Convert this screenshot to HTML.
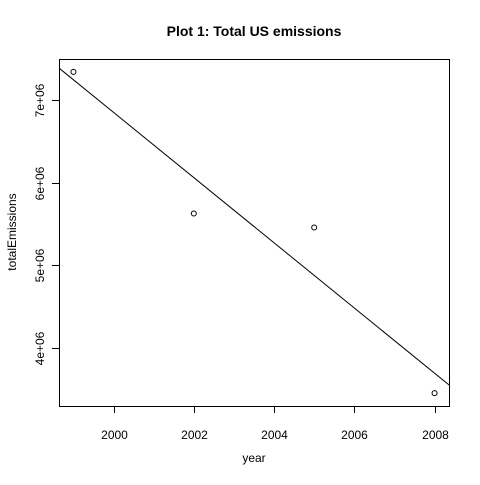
<!DOCTYPE html>
<html><head><meta charset="utf-8"><style>
body{margin:0;background:#fff}
text{font-family:"Liberation Sans",Arial,sans-serif;fill:#000}
</style></head><body>
<svg id="c" width="480" height="480" xmlns="http://www.w3.org/2000/svg"></svg>
<script>
const years=[1999,2002,2005,2008];
const emissions=[7337000,5627000,5458000,3458000];
const xTicks=[2000,2002,2004,2006,2008];
const yTicks=[4000000,5000000,6000000,7000000];
const yTickLabels=["4e+06","5e+06","6e+06","7e+06"];
const L=59,R=449,T=59,B=406;
const xmn=Math.min(...years),xmx=Math.max(...years),xr=(xmx-xmn)*0.04;
const ymn=Math.min(...emissions),ymx=Math.max(...emissions),yr=(ymx-ymn)*0.04;
const X0=xmn-xr,X1=xmx+xr,Y0=ymn-yr,Y1=ymx+yr;
const sx=v=>L+(v-X0)/(X1-X0)*(R-L);
const sy=v=>B-(v-Y0)/(Y1-Y0)*(B-T);
const svg=document.getElementById('c');const NS='http://www.w3.org/2000/svg';
function mk(t,a,p){const e=document.createElementNS(NS,t);for(const k in a)e.setAttribute(k,a[k]);(p||svg).appendChild(e);return e;}
const defs=mk('defs',{});const cp=mk('clipPath',{id:'clip'},defs);mk('rect',{x:L,y:T,width:R-L,height:B-T},cp);
let e;
e=mk('text',{x:254,y:36,'text-anchor':'middle','font-size':'14','font-weight':'bold'});e.textContent='Plot 1: Total US emissions';


e=mk('rect',{x:L+.5,y:T+.5,width:R-L,height:B-T,fill:'none',stroke:'#000','stroke-width':1});


xTicks.forEach(t=>{const x=Math.round(sx(t))+.5;
e=mk('line',{x1:x,x2:x,y1:B,y2:B+7,stroke:'#000'});


e=mk('text',{x:x,y:439,'text-anchor':'middle','font-size':'12'});e.textContent=t;

});
yTicks.forEach((t,i)=>{const y=Math.round(sy(t))+.5;
e=mk('line',{x1:L-7,x2:L,y1:y,y2:y,stroke:'#000'});


e=mk('text',{x:0,y:0,'text-anchor':'middle','font-size':'12',transform:`translate(44,${y}) rotate(-90)`});e.textContent=yTickLabels[i];

});
e=mk('text',{x:254,y:462,'text-anchor':'middle','font-size':'12'});e.textContent='year';


e=mk('text',{x:0,y:0,'text-anchor':'middle','font-size':'12',transform:'translate(16,232) rotate(-90)'});e.textContent='totalEmissions';


years.forEach((yv,i)=>{e=mk('circle',{cx:sx(yv),cy:sy(emissions[i]),r:2.5,fill:'none',stroke:'#000'});

});
const n=years.length,mx=years.reduce((a,b)=>a+b)/n,my=emissions.reduce((a,b)=>a+b)/n;
let sxy=0,sxx=0;years.forEach((v,i)=>{sxy+=(v-mx)*(emissions[i]-my);sxx+=(v-mx)**2;});
const b=sxy/sxx,a=my-b*mx;
e=mk('line',{x1:sx(X0-1),y1:sy(a+b*(X0-1)),x2:sx(X1+1),y2:sy(a+b*(X1+1)),stroke:'#000','stroke-width':1,'clip-path':'url(#clip)'});


</script>
</body></html>
